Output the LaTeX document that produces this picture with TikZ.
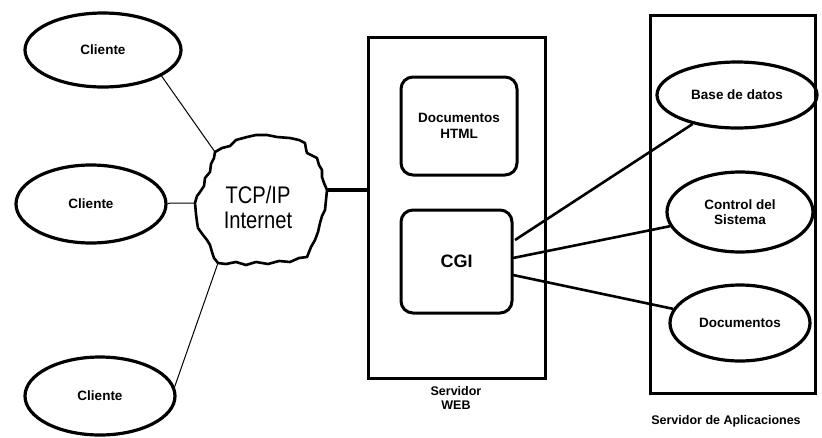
\documentclass[tikz,border=0pt]{standalone}
\usepackage{fontspec}
\setmainfont{Liberation Sans}
\usetikzlibrary{shapes.geometric}
\begin{document}
\begin{tikzpicture}[x=1pt,y=-1pt,
  ell/.style={draw,ellipse,line width=3.2pt,inner sep=0pt,font=\fontsize{13.5}{15.5}\selectfont\bfseries,align=center},
  box/.style={draw,line width=3pt,rounded corners=12pt,font=\fontsize{13.5}{15.5}\selectfont\bfseries,align=center},
  frame/.style={draw,line width=3pt},
  thin/.style={line width=1pt},
  thick/.style={line width=2.6pt},
  lbl/.style={font=\fontsize{12.5}{14}\selectfont\bfseries,align=center}]
\useasboundingbox (0,0) rectangle (822,437);
% clients
\node[ell,minimum width=156pt,minimum height=74pt] (c1) at (103,50) {Cliente};
\node[ell,minimum width=150pt,minimum height=78pt] (c2) at (91,204) {Cliente};
\node[ell,minimum width=150pt,minimum height=78pt] (c3) at (100,396) {Cliente};
% cloud
\coordinate (ctop) at (215,152);
\coordinate (cleft) at (195,203);
\coordinate (cbot) at (218,263);
\coordinate (cright) at (327,190);
\draw[line width=2.6pt,line join=round,fill=white]
  (215,152) -- (222,148) -- (230,146) -- (236,140) -- (247,137) -- (256,135) -- (267,135)
  -- (277,137) -- (290,138) -- (299,140) -- (305,143) -- (306,149) -- (307,153) -- (313,156)
  -- (317,158) -- (319,165) -- (322,170) -- (322,177) -- (324,183) -- (327,190)
  -- (326,200) -- (325,210) -- (322,216) -- (320,223) -- (318,232) -- (315,240)
  -- (311,247) -- (307,257) -- (299,258) -- (290,262) -- (279,261) -- (268,264)
  -- (256,262) -- (246,265) -- (236,262) -- (226,264) -- (218,263)
  -- (214,258) -- (212,252) -- (210,245) -- (207,240) -- (203,235) -- (198,228)
  -- (197,222) -- (196,214) -- (195,203) -- (197,196) -- (200,192) -- (204,186)
  -- (205,178) -- (210,172) -- (211,164) -- (214,158) -- cycle;
\node[font=\fontsize{24}{28}\selectfont,align=center] (cloud) at (258,207)
  {\scalebox{0.84}[1]{TCP/IP}\\[-3pt]\scalebox{0.84}[1]{Internet}};
\draw[thin] (c1.-24) -- (ctop);
\draw[thin] (c2) -- (cleft);
\draw[thin] (c3.7) -- (cbot);
% web server
\node[frame,minimum width=177pt,minimum height=341pt] (web) at (456.5,207.5) {};
\node[lbl] (weblbl) at (456,398) {Servidor\\WEB};
\node[box,minimum width=116pt,minimum height=98pt] (html) at (459,126) {Documentos\\HTML};
\node[box,minimum width=111pt,minimum height=103pt,font=\fontsize{18}{20}\selectfont\bfseries] (cgi) at (456.5,261.5) {CGI};
\draw[line width=4pt] (cright) -- (web.west |- cright);
% app server
\node[frame,minimum width=165pt,minimum height=378pt] (app) at (732.5,204) {};
\node[lbl] (applbl) at (726,421) {Servidor de Aplicaciones};
\node[ell,minimum width=160pt,minimum height=66pt] (db) at (737,95) {Base de datos};
\node[ell,minimum width=146pt,minimum height=80pt] (ctl) at (740,212) {Control del\\Sistema};
\node[ell,minimum width=140pt,minimum height=76pt] (doc) at (740,323) {Documentos};
\coordinate (g1) at (515,240);
\coordinate (g2) at (513,258);
\coordinate (g3) at (513,275);
\draw[thick] (g1) -- (db);
\draw[thick] (g2) -- (ctl);
\draw[thick] (g3) -- (doc);
\end{tikzpicture}
\end{document}
